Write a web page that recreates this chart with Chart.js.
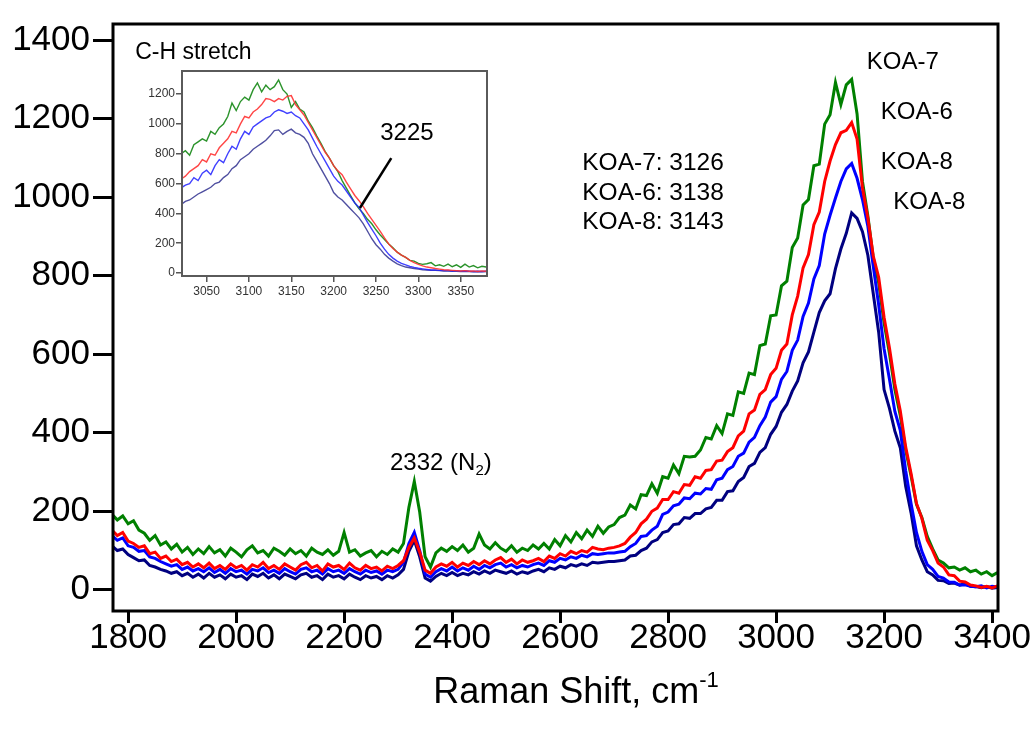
<!DOCTYPE html>
<html>
<head>
<meta charset="utf-8">
<title>Raman spectra, C-H stretch</title>
<script src="https://cdn.jsdelivr.net/npm/chart.js@4/dist/chart.umd.min.js"></script>
<style>
  html, body { margin: 0; padding: 0; background: #fff; }
  #wrap { position: relative; width: 1036px; height: 729px; }
  #main { position: absolute; left: 0; top: 0; }
  #inset { position: absolute; left: 130px; top: 60px; }
</style>
</head>
<body>
<div id="wrap">
  <canvas id="main" width="1036" height="729"></canvas>
  <canvas id="inset" width="370" height="245"></canvas>
</div>
<script>
// Raman shift grid of the full spectra (cm-1): 1770 .. 3410, every 10
const shiftStart = 1770;
const shiftStep = 10;

const koa7 = [
  192, 178, 188, 168, 176, 152, 144, 126, 138, 114,
  122, 104, 116, 96, 108, 90, 104, 92, 110, 94,
  102, 86, 106, 96, 84, 102, 112, 94, 100, 86,
  106, 98, 88, 104, 92, 100, 86, 106, 96, 90,
  102, 88, 98, 146, 96, 102, 86, 94, 100, 84,
  98, 90, 104, 96, 118, 210, 276, 198, 84, 58,
  94, 106, 98, 110, 100, 114, 96, 106, 142, 114,
  104, 120, 106, 98, 112, 96, 106, 100, 114, 104,
  118, 104, 128, 112, 138, 122, 146, 130, 152, 136,
  162, 144, 160, 166, 184, 190, 216, 206, 242, 240,
  270, 246, 288, 284, 318, 296, 340, 338, 340, 356,
  388, 384, 418, 398, 448, 444, 504, 500, 552, 548,
  622, 626, 698, 700, 774, 786, 872, 896, 980, 994,
  1080, 1084, 1186, 1210, 1292, 1236, 1286, 1300, 1212, 1040,
  952, 846, 782, 680, 602, 510, 444, 356, 290, 218,
  184, 136, 104, 76, 68, 56, 58, 50, 56, 46,
  50, 40, 46, 36, 44
];
const koa6 = [
  152, 138, 146, 124, 118, 108, 112, 92, 96, 80,
  86, 72, 78, 64, 70, 58, 66, 56, 68, 54,
  62, 52, 66, 56, 62, 50, 64, 58, 70, 54,
  62, 52, 66, 58, 50, 64, 70, 56, 62, 48,
  66, 58, 62, 52, 68, 56, 50, 62, 54, 58,
  48, 60, 54, 62, 74, 108, 132, 96, 50, 42,
  58, 66, 60, 70, 58, 68, 62, 72, 64, 74,
  66, 76, 82, 70, 78, 66, 76, 70, 74, 80,
  72, 86, 80, 92, 86, 98, 92, 100, 96, 108,
  104, 102, 106, 108, 112, 118, 134, 146, 168, 180,
  200, 208, 230, 230, 250, 246, 268, 266, 288, 284,
  304, 306, 328, 330, 352, 362, 392, 404, 448, 458,
  498, 510, 548, 564, 610, 626, 700, 748, 820, 854,
  930, 962, 1040, 1092, 1134, 1164, 1170, 1190, 1148, 1024,
  946, 850, 796, 694, 616, 524, 456, 364, 296, 220,
  182, 126, 100, 68, 58, 38, 36, 22, 20, 12,
  10, 6, 9, 5, 10
];
const koa8a = [
  138, 126, 132, 112, 108, 98, 100, 84, 80, 72,
  66, 60, 64, 52, 58, 48, 54, 46, 56, 44,
  52, 42, 54, 46, 50, 40, 52, 48, 56, 44,
  50, 42, 54, 46, 40, 52, 56, 46, 50, 40,
  54, 46, 50, 42, 54, 46, 40, 50, 44, 48,
  40, 50, 46, 52, 70, 118, 146, 100, 40, 32,
  46, 54, 48, 58, 48, 56, 50, 60, 52, 62,
  56, 64, 68, 58, 64, 56, 62, 58, 64, 68,
  62, 74, 70, 80, 76, 84, 80, 88, 84, 92,
  90, 92, 94, 94, 96, 98, 110, 118, 136, 138,
  152, 162, 192, 198, 214, 218, 234, 232, 246, 244,
  258, 256, 280, 284, 306, 314, 340, 348, 376, 388,
  418, 440, 478, 492, 536, 556, 610, 636, 696, 730,
  792, 826, 906, 954, 998, 1040, 1072, 1086, 1048, 994,
  926, 824, 726, 614, 536, 454, 406, 304, 220, 146,
  98, 64, 52, 34, 30, 20, 19, 12, 13, 9,
  8, 10, 5, 9, 7
];
const koa8b = [
  112, 100, 104, 90, 82, 74, 76, 62, 58, 52,
  48, 42, 46, 36, 42, 32, 40, 30, 42, 32,
  38, 28, 40, 32, 36, 26, 40, 34, 42, 30,
  38, 28, 40, 34, 28, 38, 42, 32, 36, 26,
  40, 32, 36, 28, 40, 32, 26, 36, 30, 34,
  26, 36, 30, 38, 52, 98, 126, 84, 30, 22,
  34, 42, 36, 44, 36, 42, 38, 46, 40, 48,
  42, 50, 46, 42, 48, 40, 46, 42, 48, 52,
  46, 56, 52, 60, 56, 64, 60, 66, 62, 70,
  68, 70, 72, 72, 74, 76, 86, 88, 100, 106,
  122, 128, 146, 150, 166, 168, 184, 182, 194, 194,
  206, 210, 228, 228, 250, 252, 276, 286, 314, 322,
  350, 362, 396, 416, 452, 472, 506, 532, 578, 606,
  656, 706, 736, 754, 818, 868, 908, 960, 946, 912,
  852, 754, 656, 510, 462, 404, 362, 264, 196, 112,
  76, 46, 38, 24, 23, 16, 17, 12, 16, 9,
  8, 5, 8, 4, 6
];

// Inset: C-H stretch region, 3020 .. 3380 every 5 cm-1
const insetStart = 3020;
const insetStep = 5;

const insetKoa7 = [
  800, 820, 790, 860, 880, 900, 885, 950, 930, 975,
  1000, 1050, 1140, 1090, 1150, 1180, 1160, 1230, 1275, 1215,
  1260, 1230, 1250, 1295, 1230, 1200, 1110, 1150, 1100, 1080,
  1020, 975, 920, 870, 815, 770, 720, 680, 620, 570,
  520, 470, 430, 400, 360, 330, 290, 255, 225, 195,
  170, 140, 120, 105, 85, 80, 65, 58, 62, 70,
  48, 55, 45, 60, 42, 55, 38, 60, 40, 50,
  35, 45, 40
];
const insetKoa6 = [
  630, 650, 680, 700, 720, 760, 745, 800, 790, 840,
  870, 900, 950, 940, 1000, 1050, 1040, 1080, 1100, 1130,
  1170, 1165, 1150, 1170, 1160, 1185, 1190, 1130, 1095, 1060,
  1010, 960, 910, 860, 810, 770, 720, 685, 660, 610,
  565, 520, 485, 445, 400, 360, 320, 280, 235, 195,
  165, 140, 120, 105, 85, 70, 58, 48, 40, 35,
  30, 26, 22, 20, 18, 16, 14, 16, 12, 14,
  10, 14, 12
];
const insetKoa8a = [
  570, 590, 600, 640, 620, 670, 690, 660, 720, 760,
  740, 800, 850, 830, 900, 950, 930, 980, 1000, 1020,
  1040, 1050, 1080, 1095, 1085, 1070, 1080, 1055, 1040, 1000,
  960, 905, 850, 800, 750, 700, 650, 615, 590, 550,
  510, 470, 440, 390, 340, 295, 250, 200, 160, 125,
  100, 80, 65, 55, 45, 38, 32, 28, 24, 20,
  20, 18, 16, 18, 14, 16, 12, 14, 12, 10,
  12, 10, 12
];
const insetKoa8b = [
  460, 480, 490, 510, 530, 545, 560, 575, 600, 610,
  640, 660, 700, 720, 760, 780, 800, 830, 850, 870,
  890, 920, 955, 960, 930, 950, 965, 940, 930, 910,
  870, 800, 750, 700, 650, 600, 540, 510, 490, 460,
  430, 400, 370, 330, 280, 230, 190, 160, 125, 100,
  80, 62, 50, 40, 35, 30, 26, 22, 20, 18,
  18, 16, 14, 14, 12, 12, 10, 12, 10, 8,
  10, 8, 10
];

// tick labels
const xTicks = [1800, 2000, 2200, 2400, 2600, 2800, 3000, 3200, 3400];
const yTicks = [0, 200, 400, 600, 800, 1000, 1200, 1400];
const insetXTicks = [3050, 3100, 3150, 3200, 3250, 3300, 3350];
const insetYTicks = [0, 200, 400, 600, 800, 1000, 1200];

const FONT = '"Liberation Sans", Arial, sans-serif';

function toPoints(values, start, step) {
  return values.map((v, i) => ({ x: start + i * step, y: v }));
}

function fixedTicks(list) {
  return scale => { scale.ticks = list.map(v => ({ value: v })); };
}

const plainNumber = v => String(v);

// text placed in data coordinates of the main chart
const mainNotes = [
  { text: 'KOA-7', x: 3168, y: 1344, size: 24 },
  { text: 'KOA-6', x: 3194, y: 1216, size: 24 },
  { text: 'KOA-8', x: 3194, y: 1089, size: 24 },
  { text: 'KOA-8', x: 3217, y: 986, size: 24 },
  { text: 'KOA-7: 3126', x: 2641, y: 1086, size: 24.5 },
  { text: 'KOA-6: 3138', x: 2641, y: 1011, size: 24.5 },
  { text: 'KOA-8: 3143', x: 2641, y: 936, size: 24.5 },
  { text: 'C-H stretch', x: 1813, y: 1369, size: 23 }
];

const mainDecor = {
  id: 'mainDecor',
  afterDatasetsDraw(chart) {
    const { ctx, chartArea: a, scales: { x, y } } = chart;
    ctx.save();
    ctx.strokeStyle = '#000';
    ctx.lineWidth = 3;
    ctx.strokeRect(a.left, a.top, a.right - a.left, a.bottom - a.top);

    ctx.fillStyle = '#000';
    ctx.textAlign = 'left';
    ctx.textBaseline = 'middle';
    mainNotes.forEach(n => {
      ctx.font = n.size + 'px ' + FONT;
      ctx.fillText(n.text, x.getPixelForValue(n.x), y.getPixelForValue(n.y));
    });

    // N2 peak label with subscript
    let px = x.getPixelForValue(2285);
    const py = y.getPixelForValue(321);
    ctx.font = '24px ' + FONT;
    ctx.fillText('2332 (N', px, py);
    px += ctx.measureText('2332 (N').width;
    ctx.font = '15px ' + FONT;
    ctx.fillText('2', px, py + 7);
    px += ctx.measureText('2').width;
    ctx.font = '24px ' + FONT;
    ctx.fillText(')', px, py);

    // axis title with superscript
    ctx.textBaseline = 'alphabetic';
    let tx = x.getPixelForValue(2365);
    const ty = a.bottom + 92;
    ctx.font = '36px ' + FONT;
    ctx.fillText('Raman Shift, cm', tx, ty);
    tx += ctx.measureText('Raman Shift, cm').width;
    ctx.font = '22px ' + FONT;
    ctx.fillText('-1', tx, ty - 16);
    ctx.restore();
  }
};

const insetDecor = {
  id: 'insetDecor',
  afterDatasetsDraw(chart) {
    const { ctx, chartArea: a, scales: { x, y } } = chart;
    ctx.save();
    ctx.strokeStyle = '#5a5a5a';
    ctx.lineWidth = 2;
    ctx.strokeRect(a.left, a.top, a.right - a.left, a.bottom - a.top);

    // pointer to the crossing point
    ctx.strokeStyle = '#000';
    ctx.lineWidth = 2.5;
    ctx.beginPath();
    ctx.moveTo(x.getPixelForValue(3268), y.getPixelForValue(771));
    ctx.lineTo(x.getPixelForValue(3231), y.getPixelForValue(436));
    ctx.stroke();

    ctx.fillStyle = '#000';
    ctx.font = '24px ' + FONT;
    ctx.textAlign = 'left';
    ctx.textBaseline = 'middle';
    ctx.fillText('3225', x.getPixelForValue(3255), y.getPixelForValue(939));
    ctx.restore();
  }
};

function series(label, values, start, step, color, width, order) {
  return {
    label: label,
    data: toPoints(values, start, step),
    borderColor: color,
    borderWidth: width,
    pointRadius: 0,
    tension: 0,
    fill: false,
    order: order
  };
}

new Chart(document.getElementById('main'), {
  type: 'line',
  data: {
    datasets: [
      series('KOA-7', koa7, shiftStart, shiftStep, '#008000', 3, 3),
      series('KOA-8', koa8b, shiftStart, shiftStep, '#000080', 3, 2),
      series('KOA-8', koa8a, shiftStart, shiftStep, '#0000ff', 3, 1),
      series('KOA-6', koa6, shiftStart, shiftStep, '#ff0000', 3, 0)
    ]
  },
  options: {
    responsive: false,
    animation: false,
    events: [],
    layout: { padding: { left: 0, top: 13, right: 38, bottom: 0 } },
    plugins: { legend: { display: false }, tooltip: { enabled: false } },
    scales: {
      x: {
        type: 'linear',
        min: 1772,
        max: 3411,
        afterBuildTicks: fixedTicks(xTicks),
        afterFit: s => { s.height = 118; },
        border: { display: false },
        grid: { drawOnChartArea: false, color: '#000', lineWidth: 3, tickLength: 12 },
        ticks: {
          color: '#000',
          font: { family: FONT, size: 35, lineHeight: 1 },
          padding: -2,
          maxRotation: 0,
          autoSkip: false,
          callback: plainNumber
        }
      },
      y: {
        type: 'linear',
        min: -54,
        max: 1441,
        afterBuildTicks: fixedTicks(yTicks),
        afterFit: s => { s.width = 113; },
        border: { display: false },
        grid: { drawOnChartArea: false, color: '#000', lineWidth: 3, tickLength: 20 },
        ticks: {
          color: '#000',
          font: { family: FONT, size: 35 },
          padding: 3,
          callback: plainNumber
        }
      }
    }
  },
  plugins: [mainDecor]
});

new Chart(document.getElementById('inset'), {
  type: 'line',
  data: {
    datasets: [
      series('KOA-7', insetKoa7, insetStart, insetStep, 'rgba(20,135,20,0.9)', 1.4, 3),
      series('KOA-8', insetKoa8b, insetStart, insetStep, 'rgba(60,60,150,0.9)', 1.4, 2),
      series('KOA-8', insetKoa8a, insetStart, insetStep, 'rgba(30,30,255,0.85)', 1.4, 1),
      series('KOA-6', insetKoa6, insetStart, insetStep, 'rgba(255,50,50,0.9)', 1.4, 0)
    ]
  },
  options: {
    responsive: false,
    animation: false,
    events: [],
    layout: { padding: { left: 0, top: 11, right: 13, bottom: 0 } },
    plugins: { legend: { display: false }, tooltip: { enabled: false } },
    scales: {
      x: {
        type: 'linear',
        min: 3021,
        max: 3381,
        afterBuildTicks: fixedTicks(insetXTicks),
        afterFit: s => { s.height = 29; },
        border: { display: false },
        grid: { drawOnChartArea: false, color: '#555', lineWidth: 1.5, tickLength: 6 },
        ticks: {
          color: '#333',
          font: { family: FONT, size: 12 },
          padding: 2,
          maxRotation: 0,
          autoSkip: false,
          callback: plainNumber
        }
      },
      y: {
        type: 'linear',
        min: -20,
        max: 1355,
        afterBuildTicks: fixedTicks(insetYTicks),
        afterFit: s => { s.width = 52; },
        border: { display: false },
        grid: { drawOnChartArea: false, color: '#555', lineWidth: 1.5, tickLength: 6 },
        ticks: {
          color: '#333',
          font: { family: FONT, size: 12 },
          padding: 1,
          callback: plainNumber
        }
      }
    }
  },
  plugins: [insetDecor]
});
</script>
</body>
</html>
